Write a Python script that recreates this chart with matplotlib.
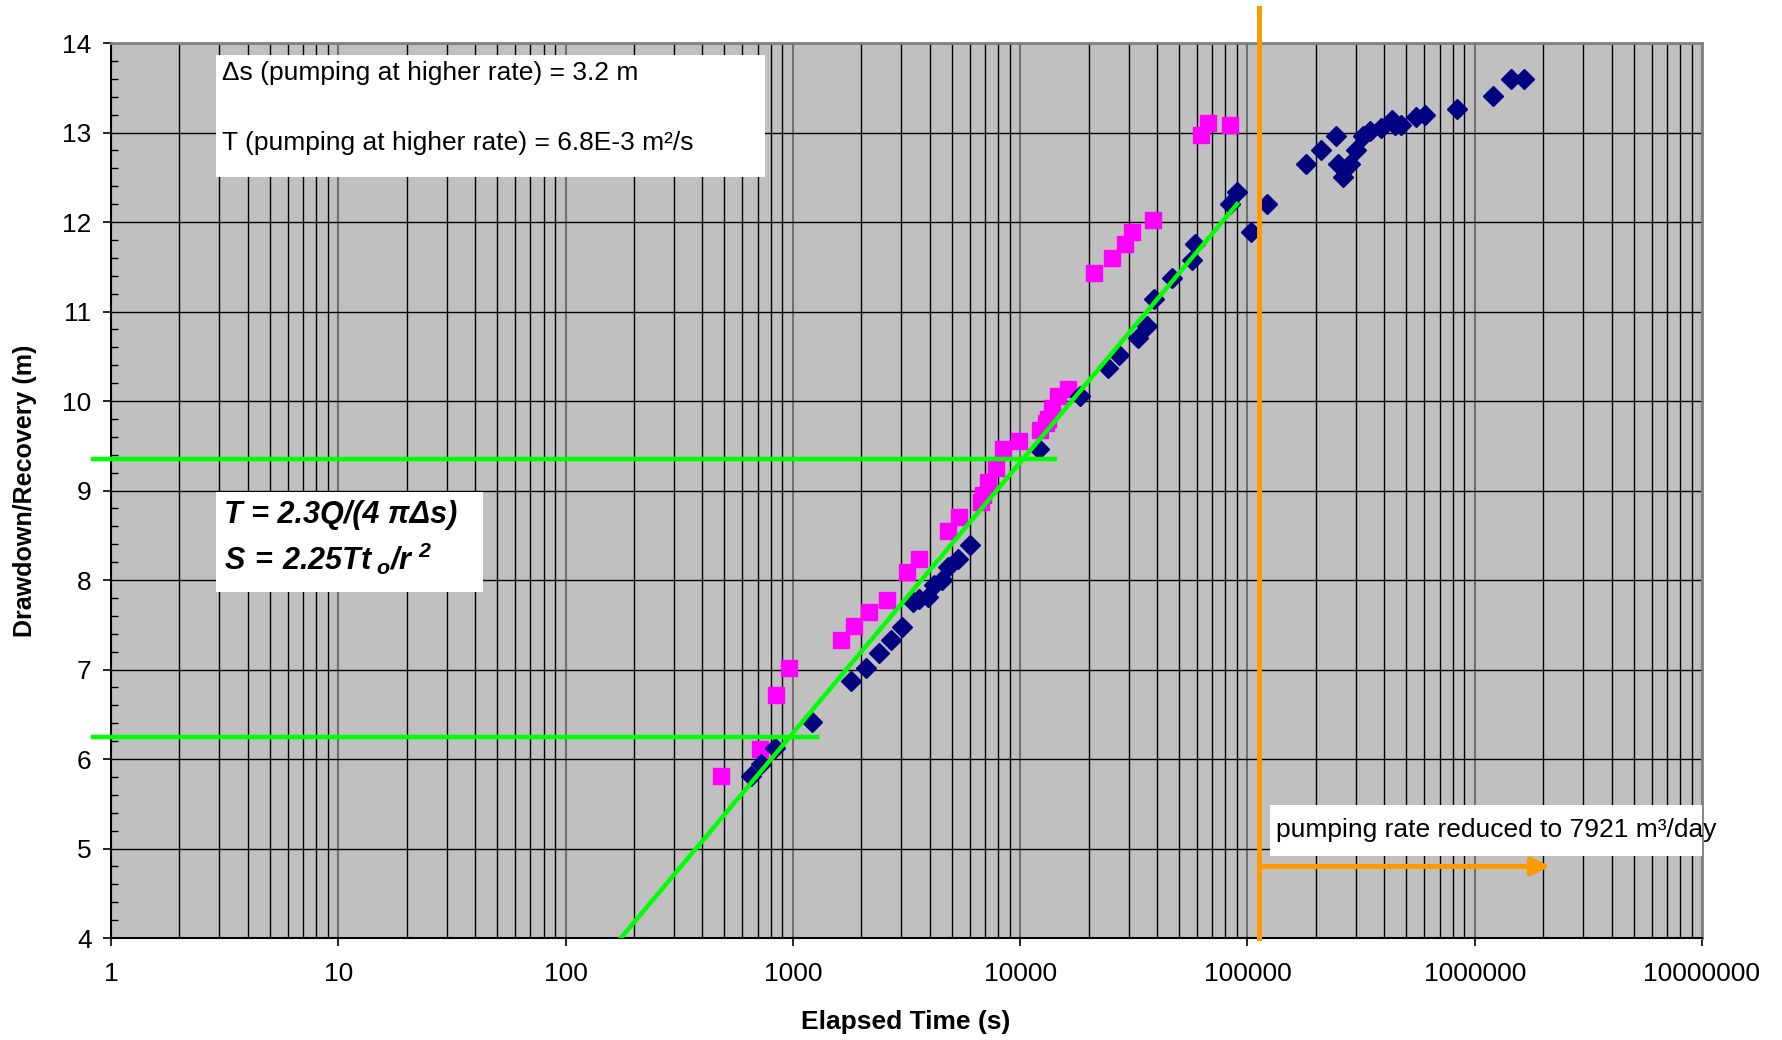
import numpy as np
import matplotlib.pyplot as plt
from matplotlib.patches import Rectangle, FancyArrowPatch
from matplotlib.ticker import FixedLocator, MultipleLocator, FuncFormatter

plt.rcParams['font.family'] = ['Liberation Sans', 'DejaVu Sans']
plt.rcParams['mathtext.fontset'] = 'custom'
plt.rcParams['mathtext.rm'] = 'Liberation Sans:italic:bold'
plt.rcParams['mathtext.it'] = 'Liberation Sans:italic:bold'
plt.rcParams['mathtext.bf'] = 'Liberation Sans:italic:bold'

# Drawdown (navy diamonds)
t_draw = [654, 722, 832, 1217, 1802, 2099, 2394, 2693, 3012, 3368, 3600, 3920,
          4190, 4541, 4830, 5343, 6015, 12130, 18330, 24270, 27300, 33100, 36000,
          38740, 46360, 56760, 58700, 83720, 89590, 103500, 121400, 180300,
          209900, 245000, 250800, 263900, 282300, 300000, 323000, 345800, 386500,
          430700, 445500, 472000, 551000, 603500, 837000, 1199000, 1443000, 1645000]
s_draw = [5.81, 5.95, 6.12, 6.41, 6.87, 7.02, 7.18, 7.33, 7.48, 7.76, 7.79, 7.81,
          7.94, 8.00, 8.15, 8.24, 8.39, 9.46, 10.06, 10.37, 10.51, 10.70, 10.84,
          11.14, 11.38, 11.58, 11.76, 12.20, 12.34, 11.89, 12.20, 12.65,
          12.81, 12.96, 12.65, 12.50, 12.65, 12.81, 12.96, 13.02, 13.05,
          13.14, 13.08, 13.08, 13.17, 13.20, 13.26, 13.41, 13.60, 13.60]

# Second series (magenta squares)
t_rec = [481, 719, 840, 961, 1622, 1862, 2161, 2587, 3177, 3597, 4796, 5398,
         6725, 6882, 7196, 7804, 8401, 9883, 12270, 12950, 13210, 13840, 14620,
         16180, 21230, 25250, 28900, 31120, 38530, 62400, 67260, 83720]
s_rec = [5.81, 6.11, 6.72, 7.02, 7.33, 7.49, 7.64, 7.78, 8.09, 8.24, 8.55, 8.70,
         8.87, 8.95, 9.10, 9.25, 9.47, 9.55, 9.68, 9.75, 9.80, 9.92, 10.06,
         10.13, 11.43, 11.60, 11.75, 11.89, 12.02, 12.97, 13.11, 13.08]

# Straight-line fit and the two reading lines
fit_t = [175, 90000]
fit_s = [4.0, 12.2]
hline_s = [6.25, 9.35]
hline_end = [1273, 14220]

# Time the pumping rate was cut, and the arrow after it
t_reduce = 112700
arrow_end = 2.15e6
arrow_s = 4.8

# axis ticks
x_major = [1, 10, 100, 1000, 10000, 100000, 1000000, 10000000]
x_minor = [m * d for d in x_major[:-1] for m in range(2, 10)]

fig = plt.figure(figsize=(17.82, 10.40), dpi=100)
ax = fig.add_axes([0.0623, 0.098, 0.8928, 0.8606])
ax.set_facecolor('#C0C0C0')
ax.set_xscale('log')
ax.set_xlim(1, 1e7)
ax.set_ylim(4, 14)

# grid
ax.xaxis.set_major_locator(FixedLocator(x_major))
ax.xaxis.set_minor_locator(FixedLocator(x_minor))
ax.yaxis.set_major_locator(MultipleLocator(1))
ax.yaxis.set_minor_locator(MultipleLocator(0.2))
ax.set_axisbelow(True)
ax.grid(which='major', axis='x', color='#707070', lw=1.5)
ax.grid(which='minor', axis='x', color='black', lw=1)
ax.grid(which='major', axis='y', color='black', lw=1)

ax.xaxis.set_major_formatter(FuncFormatter(lambda v, p: f'{v:.0f}'))
ax.tick_params(axis='x', which='major', direction='out', length=6, width=1.2,
               labelsize=19, pad=11)
ax.tick_params(axis='x', which='minor', length=0)
ax.tick_params(axis='y', which='major', direction='out', length=6, width=1.2,
               labelsize=19, pad=8)
ax.tick_params(axis='y', which='minor', direction='in', length=5, width=1)

for side in ['left', 'bottom']:
    ax.spines[side].set_color('black')
    ax.spines[side].set_linewidth(1.5)
for side in ['top', 'right']:
    ax.spines[side].set_color('#808080')
    ax.spines[side].set_linewidth(2)

# data
ax.plot(t_rec, s_rec, 's', color='#FF00FF', ms=11.5, mec='#FF00FF', zorder=3)
ax.plot(t_draw, s_draw, 'D', color='#000080', ms=10.5, mec='#000080', zorder=3)

# lines
green = '#00FF00'
ax.plot(fit_t, fit_s, color=green, lw=3.2, zorder=4)
for s, te in zip(hline_s, hline_end):
    ax.plot([0.83, te], [s, s], color=green, lw=3.2, clip_on=False, zorder=4)

orange = '#FF9900'
ax.plot([t_reduce, t_reduce], [4, 14.39], color=orange, lw=3.6, clip_on=False, zorder=4)
ax.add_patch(FancyArrowPatch((t_reduce, arrow_s), (arrow_end, arrow_s),
                             arrowstyle='-|>,head_length=0.55,head_width=0.27',
                             color=orange, lw=3.6, shrinkA=0, shrinkB=0,
                             mutation_scale=20, zorder=4))

# text boxes
ax.add_patch(Rectangle((0.066, 0.850), 0.345, 0.137, transform=ax.transAxes,
                       facecolor='white', edgecolor='none', zorder=5))
ax.text(0.0698, 0.966, 'Δs (pumping at higher rate) = 3.2 m', transform=ax.transAxes,
        fontsize=19, va='center', zorder=6)
ax.text(0.0698, 0.888, 'T (pumping at higher rate) = 6.8E-3 m²/s', transform=ax.transAxes,
        fontsize=19, va='center', zorder=6)

ax.add_patch(Rectangle((0.066, 0.3866), 0.1678, 0.1117, transform=ax.transAxes,
                       facecolor='white', edgecolor='none', zorder=5))
ax.text(0.071, 0.4726, 'T = 2.3Q/(4 πΔs)', transform=ax.transAxes, fontsize=22,
        fontweight='bold', fontstyle='italic', va='center', zorder=6)
ax.text(0.071, 0.4235, r'$S\,=\,2.25Tt_{\ o}/r^{\ 2}$', transform=ax.transAxes,
        fontsize=22, va='center', zorder=6)

ax.add_patch(Rectangle((0.7286, 0.092), 0.2714, 0.057, transform=ax.transAxes,
                       facecolor='white', edgecolor='none', zorder=5))
ax.text(0.7325, 0.1205, 'pumping rate reduced to 7921 m³/day', transform=ax.transAxes,
        fontsize=19, va='center', zorder=6)

# axis labels
fig.text(0.5084, 0.0173, 'Elapsed Time (s)', fontsize=19, fontweight='bold',
         ha='center', va='center')
fig.text(25 / 1782, 0.528, 'Drawdown/Recovery (m)', fontsize=18, fontweight='bold',
         rotation=90, ha='center', va='center')

fig.savefig('out.png', dpi=100)
